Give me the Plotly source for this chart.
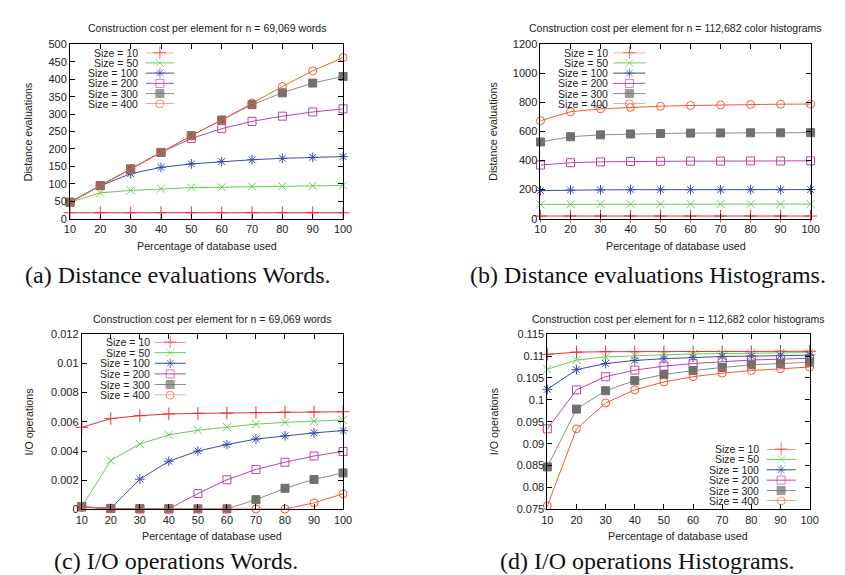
import plotly.graph_objects as go

W, H = 845, 575

x_pct = [10, 20, 30, 40, 50, 60, 70, 80, 90, 100]
size_labels = ["Size = 10", "Size = 50", "Size = 100", "Size = 200", "Size = 300", "Size = 400"]

# (a) distance evaluations, words
words_dist = [
    [17, 17, 17, 17, 17, 17, 17, 17, 17, 17],
    [47, 74, 81, 86, 89, 90, 92, 93, 94, 95],
    [47, 94, 129, 147, 157, 164, 169, 173, 176, 178],
    [47, 95, 142, 190, 230, 258, 279, 294, 306, 315],
    [47, 95, 143, 190, 238, 283, 327, 361, 389, 408],
    [47, 95, 143, 190, 238, 283, 332, 379, 424, 462],
]
# (b) distance evaluations, histograms
hist_dist = [
    [18, 18, 18, 18, 18, 18, 18, 18, 18, 18],
    [98, 99, 100, 100, 100, 100, 100, 100, 100, 100],
    [193, 197, 198, 199, 199, 199, 199, 199, 199, 200],
    [369, 385, 391, 394, 395, 396, 396, 397, 397, 398],
    [528, 564, 577, 583, 586, 589, 590, 591, 591, 592],
    [674, 736, 756, 766, 774, 779, 783, 786, 788, 789],
]
# (c) I/O operations, words
words_io = [
    [0.00562, 0.00622, 0.00642, 0.00654, 0.00658, 0.0066, 0.00664, 0.00666, 0.00667, 0.00669],
    [0.00018, 0.00335, 0.00448, 0.00511, 0.00542, 0.00564, 0.00584, 0.00596, 0.00604, 0.00613],
    [0.00018, 0.00007, 0.00207, 0.0033, 0.004, 0.00444, 0.00482, 0.00504, 0.00524, 0.0054],
    [0.00018, 0.00007, 0.00005, 0.00004, 0.00109, 0.00203, 0.00274, 0.00323, 0.00366, 0.00397],
    [0.00018, 0.00006, 0.00004, 0.00004, 0.00004, 0.00004, 0.00067, 0.00145, 0.00205, 0.0025],
    [0.00015, 0.00005, 0.00003, 0.00003, 0.00003, 0.00003, 0.00003, 0.00003, 0.00045, 0.00107],
]
# (d) I/O operations, histograms
hist_io = [
    [0.1104, 0.1109, 0.1110, 0.1110, 0.1110, 0.1110, 0.1110, 0.1110, 0.1111, 0.1111],
    [0.1070, 0.1091, 0.1098, 0.1101, 0.1103, 0.1105, 0.1106, 0.1107, 0.1108, 0.1108],
    [0.1024, 0.1069, 0.1083, 0.1090, 0.1094, 0.1097, 0.1099, 0.1100, 0.1101, 0.1102],
    [0.0934, 0.1023, 0.1053, 0.1068, 0.1077, 0.1083, 0.1087, 0.1091, 0.1093, 0.1095],
    [0.0847, 0.0979, 0.1021, 0.1044, 0.1058, 0.1067, 0.1074, 0.1080, 0.1083, 0.1086],
    [0.0758, 0.0934, 0.0993, 0.1023, 0.1041, 0.1053, 0.1061, 0.1067, 0.1071, 0.1075],
]

yticks_a = [0, 50, 100, 150, 200, 250, 300, 350, 400, 450, 500]
yticks_b = [0, 200, 400, 600, 800, 1000, 1200]
yticks_c = [0, 0.002, 0.004, 0.006, 0.008, 0.01, 0.012]
yticks_c_text = ["0", "0.002", "0.004", "0.006", "0.008", "0.01", "0.012"]
yticks_d = [0.075, 0.08, 0.085, 0.09, 0.095, 0.1, 0.105, 0.11, 0.115]
yticks_d_text = ["0.075", "0.08", "0.085", "0.09", "0.095", "0.1", "0.105", "0.11", "0.115"]

title_words = "Construction cost per element for n = 69,069 words"
title_hist = "Construction cost per element for n = 112,682 color histograms"
xlabel = "Percentage of database used"
captions = ["(a) Distance evaluations Words.", "(b) Distance evaluations Histograms.",
            "(c) I/O operations Words.", "(d) I/O operations Histograms."]

line_colors = ["#ee3030", "#66cc55", "#3a4ca8", "#b845a8", "#8c8c8c", "#f25a32"]
marker_colors = ["#ee3030", "#66cc55", "#3a4ca8", "#b845a8", "#707070", "#f25a32"]
symbols = ["cross-thin-open", "x-thin-open", "asterisk-open", "square-open", "square", "circle-open"]
msizes = [9, 8, 8, 8, 8, 8]

SANS = "Liberation Sans, Arial, sans-serif"
SERIF = "Liberation Serif, Times New Roman, serif"
TXT = "#222222"


def px_x(p):
    return p / W


def px_y(p):
    return 1 - p / H


# panel geometry in pixels: (x0, x1, ytop, ybottom)
panels = [
    (57, 335, 31, 209),
    (536, 811, 31, 209),
    (69, 335, 327, 506),
    (543, 810, 327, 506),
]
datasets = [words_dist, hist_dist, words_io, hist_io]
yranges = [[0, 500], [0, 1200], [0, 0.012], [0.075, 0.115]]
ytv = [yticks_a, yticks_b, yticks_c, yticks_d]
ytt = [[str(v) for v in yticks_a], [str(v) for v in yticks_b], yticks_c_text, yticks_d_text]
titles = [title_words, title_hist, title_words, title_hist]
ylabels = ["Distance evaluations", "Distance evaluations", "I/O operations", "I/O operations"]
ylabel_x = [15, 488, 15, 488]
# legend geometry: text right edge, sample x0, sample x1, first row y, last row y
legends = [
    (128, 134, 163, 39.5, 91.7),
    (607, 610, 643, 39.5, 91.7),
    (140, 143, 175, 335.0, 389.3),
    (761, 766, 796, 444.3, 497.3),
]
title_y = [14, 14, 312, 312]
xlabel_y = [237, 237, 533, 533]
caption_pos = [(167, 267), (645, 267), (165, 559), (645, 559)]

fig = go.Figure()
layout = dict(
    width=W, height=H,
    margin=dict(l=0, r=0, t=0, b=0),
    paper_bgcolor="white", plot_bgcolor="white",
    showlegend=False,
    font=dict(family=SANS, size=10.7, color=TXT),
)
annotations = []

for k in range(4):
    x0, x1, yt, yb = panels[k]
    ax = "" if k == 0 else str(k + 1)
    layout["xaxis" + ax] = dict(
        domain=[px_x(x0), px_x(x1)], range=[10, 100], anchor="y" + ax,
        tickvals=x_pct, ticks="inside", ticklen=5, tickcolor="black",
        showline=True, mirror="ticks", linecolor="black", linewidth=1,
        showgrid=False, zeroline=False, tickfont=dict(size=11, color=TXT),
    )
    layout["yaxis" + ax] = dict(
        domain=[px_y(yb), px_y(yt)], range=yranges[k], anchor="x" + ax,
        tickvals=ytv[k], ticktext=ytt[k], ticks="inside", ticklen=5, tickcolor="black",
        showline=True, mirror="ticks", linecolor="black", linewidth=1,
        showgrid=False, zeroline=False, tickfont=dict(size=11, color=TXT),
    )
    for i in range(6):
        fig.add_trace(go.Scatter(
            x=x_pct, y=datasets[k][i], mode="lines+markers",
            xaxis="x" + ax, yaxis="y" + ax,
            line=dict(color=line_colors[i], width=1),
            marker=dict(symbol=symbols[i], size=msizes[i], color=marker_colors[i],
                        line=dict(color=marker_colors[i], width=1)),
            cliponaxis=False, name=size_labels[i],
        ))

    # legend samples on their own hidden axes
    tr, sx0, sx1, ry0, ry5 = legends[k]
    la = str(k + 5)
    layout["xaxis" + la] = dict(domain=[px_x(sx0), px_x(sx1)], range=[0, 1], visible=False,
                                anchor="y" + la, fixedrange=True)
    layout["yaxis" + la] = dict(domain=[px_y(ry5), px_y(ry0)], range=[-5, 0], visible=False,
                                anchor="x" + la, fixedrange=True)
    for i in range(6):
        fig.add_trace(go.Scatter(
            x=[0, 0.5, 1], y=[-i, -i, -i], mode="lines+markers",
            xaxis="x" + la, yaxis="y" + la,
            line=dict(color=line_colors[i], width=1),
            marker=dict(symbol=symbols[i], size=[0, msizes[i], 0], color=marker_colors[i],
                        line=dict(color=marker_colors[i], width=1)),
            cliponaxis=False, hoverinfo="skip",
        ))
        annotations.append(dict(
            x=px_x(tr), y=px_y(ry0 + (ry5 - ry0) * i / 5), xref="paper", yref="paper",
            text=size_labels[i], showarrow=False, xanchor="right", yanchor="middle",
            font=dict(family=SANS, size=10.5, color=TXT),
        ))

    cx = (x0 + x1) / 2
    annotations.append(dict(x=px_x(cx), y=px_y(title_y[k]), xref="paper", yref="paper",
                            text=titles[k], showarrow=False, xanchor="center", yanchor="middle",
                            font=dict(family=SANS, size=10.5, color=TXT)))
    annotations.append(dict(x=px_x(cx), y=px_y(xlabel_y[k]), xref="paper", yref="paper",
                            text=xlabel, showarrow=False, xanchor="center", yanchor="middle",
                            font=dict(family=SANS, size=10.7, color=TXT)))
    annotations.append(dict(x=px_x(ylabel_x[k]), y=px_y((yt + yb) / 2), xref="paper", yref="paper",
                            text=ylabels[k], showarrow=False, textangle=-90,
                            xanchor="center", yanchor="middle",
                            font=dict(family=SANS, size=10.7, color=TXT)))
    cxp, cyp = caption_pos[k]
    annotations.append(dict(x=px_x(cxp), y=px_y(cyp), xref="paper", yref="paper",
                            text=captions[k], showarrow=False, xanchor="center", yanchor="middle",
                            font=dict(family=SERIF, size=24, color="#111111")))

layout["annotations"] = annotations
fig.update_layout(**layout)
fig.write_html("out.html")
